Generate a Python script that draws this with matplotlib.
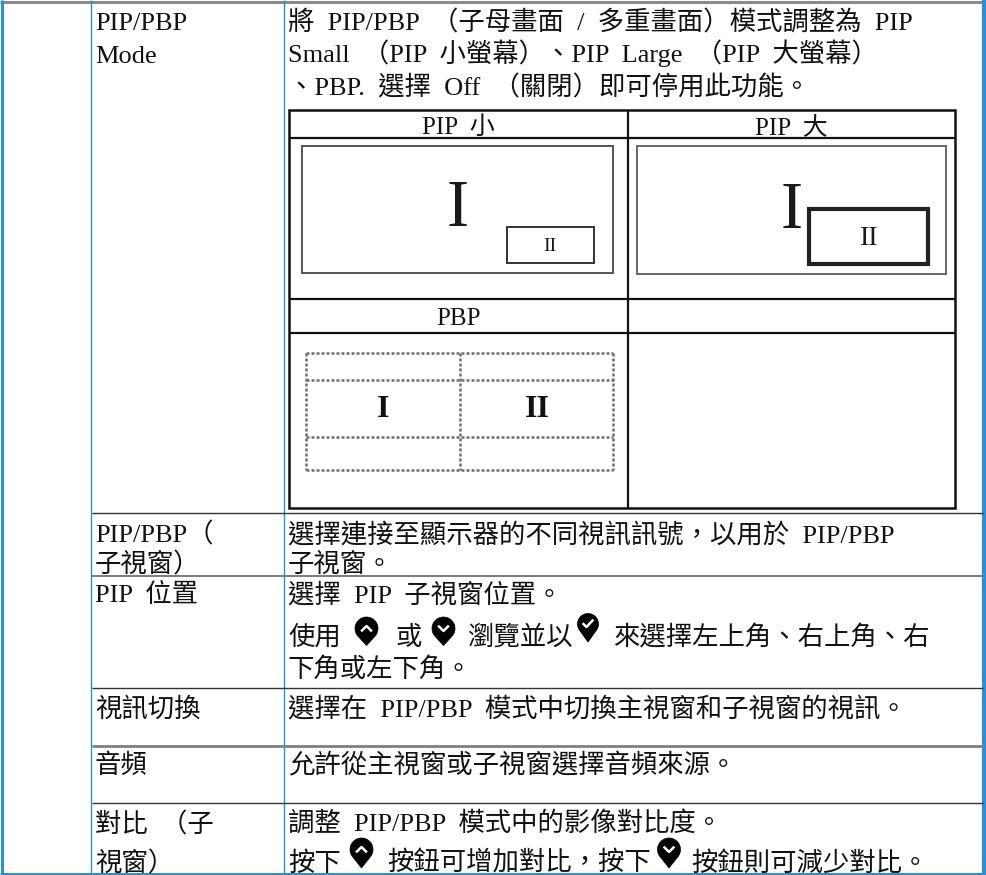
import numpy as np
import matplotlib
matplotlib.use("Agg")
import matplotlib.pyplot as plt
from matplotlib.path import Path
from matplotlib.patches import PathPatch, Rectangle

# ---------------- text content ----------------
MODE_LABEL = ["PIP/PBP", "Mode"]
MODE_DESC = ["將 PIP/PBP （子母畫面 / 多重畫面）模式調整為 PIP",
             "Small （PIP 小螢幕）、PIP Large （PIP 大螢幕）",
             "、PBP. 選擇 Off （關閉）即可停用此功能。"]
PIP_HEADERS = ["PIP 小", "PIP 大", "PBP"]
NUMERALS = ["I", "II"]
SUB_LABEL = ["PIP/PBP（", "子視窗）"]
SUB_DESC = ["選擇連接至顯示器的不同視訊訊號，以用於 PIP/PBP", "子視窗。"]
POS_LABEL = ["PIP 位置"]
POS_DESC1 = "選擇 PIP 子視窗位置。"
POS_DESC2 = ["使用", "@up", "或", "@down", "瀏覽並以", "@ok", "來選擇左上角、右上角、右"]
POS_DESC3 = "下角或左下角。"
SWAP_LABEL = ["視訊切換"]
SWAP_DESC = "選擇在 PIP/PBP 模式中切換主視窗和子視窗的視訊。"
AUDIO_LABEL = ["音頻"]
AUDIO_DESC = "允許從主視窗或子視窗選擇音頻來源。"
CON_LABEL = ["對比 （子", "視窗）"]
CON_DESC1 = "調整 PIP/PBP 模式中的影像對比度。"
CON_DESC2 = ["按下", "@up", "按鈕可增加對比，按下", "@down", "按鈕則可減少對比。"]

FAM = ["Liberation Serif", "Noto Sans CJK TC", "DejaVu Sans"]
FS = 19
BLUE = "#2b8fd8"

W, H = 986, 875
fig = plt.figure(figsize=(W / 100, H / 100), dpi=100)
ax = fig.add_axes([0, 0, 1, 1])
ax.set_xlim(0, W)
ax.set_ylim(H, 0)
ax.axis("off")


def txt(x, y, s, size=FS, ha="left", **kw):
    s = s.replace(" ", "  ")
    ax.text(x, y, s, fontsize=size, family=FAM, ha=ha, va="baseline",
            color="#111111", **kw)


def hline(y, x0, x1, color="#444444", lw=1.0, **kw):
    ax.plot([x0, x1], [y, y], color=color, lw=lw, solid_capstyle="butt", **kw)


def vline(x, y0, y1, color=BLUE, lw=1.0, **kw):
    ax.plot([x, x], [y0, y1], color=color, lw=lw, solid_capstyle="butt", **kw)


def pin(cx, cy, r, d, kind):
    a = np.arcsin(r / d)
    t = np.linspace(-a, np.pi + a, 40)
    pts = [(cx + r * np.cos(tt), cy - r * np.sin(tt)) for tt in t]
    pts.append((cx, cy + d))
    pts.append(pts[0])
    codes = [Path.MOVETO] + [Path.LINETO] * (len(pts) - 2) + [Path.CLOSEPOLY]
    ax.add_patch(PathPatch(Path(pts, codes), facecolor="black", edgecolor="black", lw=0.5))
    if kind == "up":
        ax.plot([cx - 4.5, cx, cx + 4.5], [cy + 2, cy - 2.5, cy + 2], color="white", lw=1.8)
    elif kind == "down":
        ax.plot([cx - 4.5, cx, cx + 4.5], [cy - 2, cy + 2.5, cy - 2], color="white", lw=1.8)
    else:
        ax.plot([cx - 4.5, cx - 1.5, cx + 4.5], [cy, cy + 3, cy - 3.5], color="white", lw=1.8)


# ---------------- outer table grid ----------------
hline(1.5, 0, W, color="#8a8a8a", lw=2.2)
vline(1.5, 0, H, lw=2.2)
vline(984, 0, H, lw=3.0)
hline(873.5, 0, W, color=BLUE, lw=2.2)
vline(91, 0, H, lw=1.0)
vline(284, 0, H, lw=1.0)
for y, c, lw in [(513, "#333333", 1.0), (576, "#7a7a7a", 1.4), (688, "#333333", 1.0),
                 (746, "#808080", 2.0), (803, "#333333", 1.0)]:
    hline(y, 91.5, 983, color=c, lw=lw)

# ---------------- labels (column 1) ----------------
XL, XD = 95, 288
txt(XL, 30, MODE_LABEL[0]); txt(XL, 63, MODE_LABEL[1])
txt(XL, 542, SUB_LABEL[0]); txt(XL, 572, SUB_LABEL[1])
txt(XL, 602, POS_LABEL[0])
txt(XL, 717, SWAP_LABEL[0])
txt(XL, 773, AUDIO_LABEL[0])
txt(XL, 832, CON_LABEL[0]); txt(XL, 871, CON_LABEL[1])

# ---------------- descriptions (column 2) ----------------
for yb, s in zip([30, 62, 95], MODE_DESC):
    txt(XD, yb, s)
txt(XD, 543, SUB_DESC[0]); txt(XD, 572, SUB_DESC[1])
txt(XD, 602, POS_DESC1)
txt(XD, 677, POS_DESC3)
txt(XD, 717, SWAP_DESC)
txt(XD, 773, AUDIO_DESC)
txt(XD, 832, CON_DESC1)

# mixed lines with icons
pos_x = [XD, 366.5, 395, 443.5, 467, 588, 613]
for x, seg in zip(pos_x, POS_DESC2):
    if seg.startswith("@"):
        if seg == "@ok":
            pin(x, 624, 10.5, 18, "ok")
        else:
            pin(x, 628.5, 11.5, 17, seg[1:])
    else:
        txt(x, 645, seg)

con_x = [XD, 361.5, 387, 669, 691]
for x, seg in zip(con_x, CON_DESC2):
    if seg.startswith("@"):
        pin(x, 849.5, 11.5, 18.5, seg[1:])
    else:
        txt(x, 871, seg)

# ---------------- inner PIP / PBP table ----------------
IX0, IX1, IXM = 289, 955, 628
IY0, IYH1, IYR, IYH2, IY1 = 110, 138, 299, 333, 508
ax.add_patch(Rectangle((IX0, IY0), IX1 - IX0, IY1 - IY0, fill=False, ec="#111111", lw=1.8))
vline(IXM, IY0, IY1, color="#111111", lw=1.6)
for y in (IYH1, IYR, IYH2):
    hline(y, IX0, IX1, color="#111111", lw=1.6)
txt((IX0 + IXM) / 2, 134, PIP_HEADERS[0], size=18, ha="center")
txt((IXM + IX1) / 2, 134, PIP_HEADERS[1], size=18, ha="center")
txt((IX0 + IXM) / 2, 325, PIP_HEADERS[2], size=18, ha="center")

# PIP small diagram
ax.add_patch(Rectangle((302, 146), 311, 127, fill=False, ec="#555555", lw=1.4))
ax.add_patch(Rectangle((507, 227), 87, 36, fill=False, ec="#333333", lw=1.4))
ax.text(458, 226, NUMERALS[0], fontsize=48, family="Liberation Serif", ha="center", va="baseline", color="#1a1a1a")
ax.text(550, 251, NUMERALS[1], fontsize=14, family="Liberation Serif", ha="center", va="baseline", color="#1a1a1a")

# PIP large diagram
ax.add_patch(Rectangle((637, 146), 309, 128, fill=False, ec="#666666", lw=1.4))
ax.add_patch(Rectangle((809, 209), 119, 55, fill=False, ec="#222222", lw=3.0))
ax.text(792, 228, NUMERALS[0], fontsize=48, family="Liberation Serif", ha="center", va="baseline", color="#1a1a1a")
ax.text(869, 245, NUMERALS[1], fontsize=20, family="Liberation Serif", ha="center", va="baseline", color="#1a1a1a")

# PBP diagram (dotted grid)
dash = dict(color="#6e6e6e", lw=1.8, linestyle=(0, (1.2, 0.8)))
for y in (353, 380, 437, 470):
    ax.plot([306, 613], [y, y], **dash)
for x in (306, 460, 613):
    ax.plot([x, x], [353, 470], **dash)
ax.text(383, 417, NUMERALS[0], fontsize=23, family="Liberation Serif", ha="center", va="baseline",
        color="#111111", fontweight="bold")
ax.text(537, 417, NUMERALS[1], fontsize=23, family="Liberation Serif", ha="center", va="baseline",
        color="#111111", fontweight="bold")

fig.savefig("out.png", dpi=100, facecolor="white")
